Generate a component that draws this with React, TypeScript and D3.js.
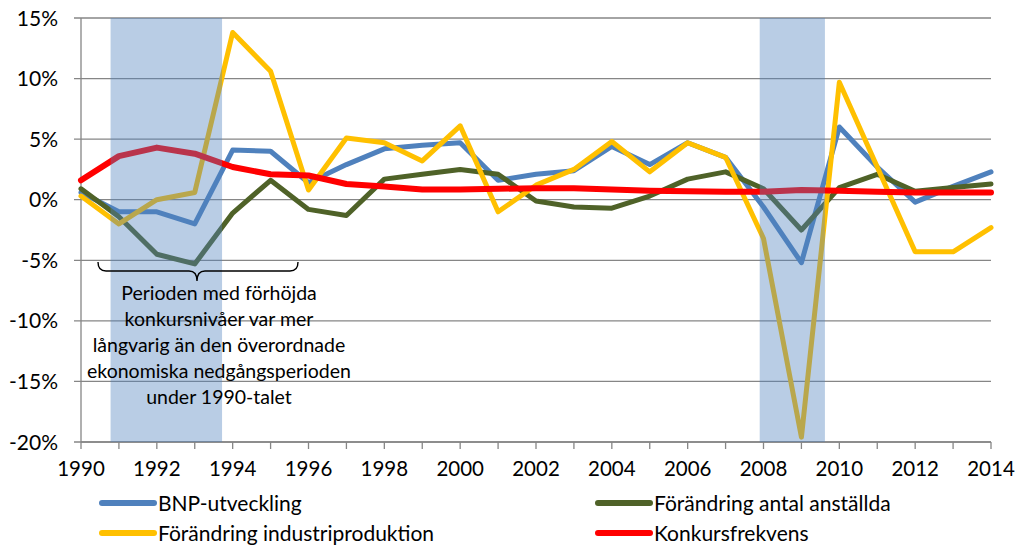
import React from 'react';
import * as d3 from 'd3';

const years = [1990, 1991, 1992, 1993, 1994, 1995, 1996, 1997, 1998, 1999, 2000, 2001, 2002,
  2003, 2004, 2005, 2006, 2007, 2008, 2009, 2010, 2011, 2012, 2013, 2014];

const bnp = [0.6, -1.0, -1.0, -2.0, 4.1, 4.0, 1.4, 2.9, 4.2, 4.5, 4.7, 1.6, 2.1, 2.4, 4.4, 2.9, 4.7, 3.5, -0.6, -5.2, 6.0, 2.7, -0.2, 1.1, 2.3];
const anstallda = [0.9, -1.4, -4.5, -5.3, -1.1, 1.6, -0.8, -1.3, 1.7, 2.1, 2.5, 2.1, -0.1, -0.6, -0.7, 0.3, 1.7, 2.3, 0.9, -2.5, 1.0, 2.1, 0.7, 1.0, 1.3];
const industri = [0.3, -2.0, 0.0, 0.6, 13.8, 10.6, 0.8, 5.1, 4.7, 3.2, 6.1, -1.0, 1.2, 2.5, 4.8, 2.3, 4.7, 3.5, -3.2, -19.6, 9.7, 2.7, -4.3, -4.3, -2.3];
const konkurs = [1.6, 3.6, 4.3, 3.8, 2.7, 2.1, 2.0, 1.3, 1.1, 0.85, 0.85, 0.9, 0.95, 0.95, 0.85, 0.75, 0.7, 0.65, 0.65, 0.8, 0.75, 0.65, 0.6, 0.6, 0.6];

const seriesNames = ['BNP-utveckling', 'Förändring antal anställda', 'Förändring industriproduktion', 'Konkursfrekvens'];
const yTicks = [-20, -15, -10, -5, 0, 5, 10, 15];
const xLabels = [1990, 1992, 1994, 1996, 1998, 2000, 2002, 2004, 2006, 2008, 2010, 2012, 2014];
// recession bands (in fractional years)
const recessions: [number, number][] = [[1990.78, 1993.72], [2007.9, 2009.62]];
const noteLines = [
  'Perioden med förhöjda',
  'konkursnivåer var mer',
  'långvarig än den överordnade',
  'ekonomiska nedgångsperioden',
  'under 1990-talet',
];

const FONT = 'Lato, "Open Sans", sans-serif';

export default function App() {
  const width = 1018;
  const height = 548;
  const m = { left: 81, right: 991, top: 18, bottom: 442 };

  const x = d3.scaleLinear().domain([1990, 2014]).range([m.left, m.right]);
  const y = d3.scaleLinear().domain([-20, 15]).range([m.bottom, m.top]);

  const series = [
    { name: seriesNames[0], values: bnp, color: '#4F81BD', w: 5 },
    { name: seriesNames[1], values: anstallda, color: '#4F6228', w: 5 },
    { name: seriesNames[2], values: industri, color: '#FFC000', w: 5 },
    { name: seriesNames[3], values: konkurs, color: '#FF0000', w: 6 },
  ];

  const line = d3.line<number>()
    .x((_, i) => x(years[i]))
    .y(d => y(d));

  const legendPos = [
    { x: 100, y: 503 },
    { x: 596, y: 503 },
    { x: 100, y: 533 },
    { x: 596, y: 533 },
  ];

  // curly bracket under the 90s shading
  const bx0 = 98, bx1 = 298, bmid = 197, by = 271;
  const brace = `M${bx0},${by - 9} Q${bx0},${by} ${bx0 + 8},${by} L${bmid - 8},${by} Q${bmid},${by} ${bmid},${by + 10} Q${bmid},${by} ${bmid + 8},${by} L${bx1 - 8},${by} Q${bx1},${by} ${bx1},${by - 9}`;

  return (
    <svg width={width} height={height} style={{ position: 'absolute', left: 0, top: 0, background: '#fff' }}
      fontFamily={FONT}>
      {/* grid */}
      {yTicks.map(t => (
        <g key={t}>
          <line x1={m.left - 7} x2={m.right} y1={y(t)} y2={y(t)} stroke="#868686" strokeWidth={1.3} />
          <text x={58} y={y(t)} dy="0.36em" textAnchor="end" fontSize={21} fill="#000">{`${t}%`}</text>
        </g>
      ))}
      {/* y axis */}
      <line x1={m.left} x2={m.left} y1={m.top} y2={m.bottom} stroke="#868686" strokeWidth={1.3} />
      {/* x axis */}
      <line x1={m.left} x2={m.right} y1={m.bottom} y2={m.bottom} stroke="#868686" strokeWidth={1.3} />
      {years.map(yr => (
        <line key={yr} x1={x(yr)} x2={x(yr)} y1={m.bottom} y2={m.bottom + 7} stroke="#868686" strokeWidth={1.3} />
      ))}
      {xLabels.map(yr => (
        <text key={yr} x={x(yr)} y={469} dy="0.36em" textAnchor="middle" fontSize={20.5} fill="#000">{yr}</text>
      ))}

      {/* series */}
      {series.map(s => (
        <path key={s.name} d={line(s.values) || ''} fill="none" stroke={s.color}
          strokeWidth={s.w} strokeLinejoin="round" strokeLinecap="round" />
      ))}

      {/* recession shading, on top of the lines */}
      {recessions.map(([a, b], i) => (
        <rect key={i} x={x(a)} y={m.top} width={x(b) - x(a)} height={m.bottom - m.top}
          fill="#4F81BD" fillOpacity={0.4} />
      ))}

      {/* annotation */}
      <path d={brace} fill="none" stroke="#000" strokeWidth={1.4} />
      {noteLines.map((t, i) => (
        <text key={i} x={219} y={293 + i * 26} dy="0.36em" textAnchor="middle" fontSize={19.5} fill="#000">{t}</text>
      ))}

      {/* legend */}
      {series.map((s, i) => (
        <g key={s.name} transform={`translate(${legendPos[i].x},${legendPos[i].y})`}>
          <line x1={2} x2={54} y1={0} y2={0} stroke={s.color} strokeWidth={6} strokeLinecap="round" />
          <text x={58} y={0} dy="0.36em" fontSize={21} fill="#000">{s.name}</text>
        </g>
      ))}
    </svg>
  );
}
